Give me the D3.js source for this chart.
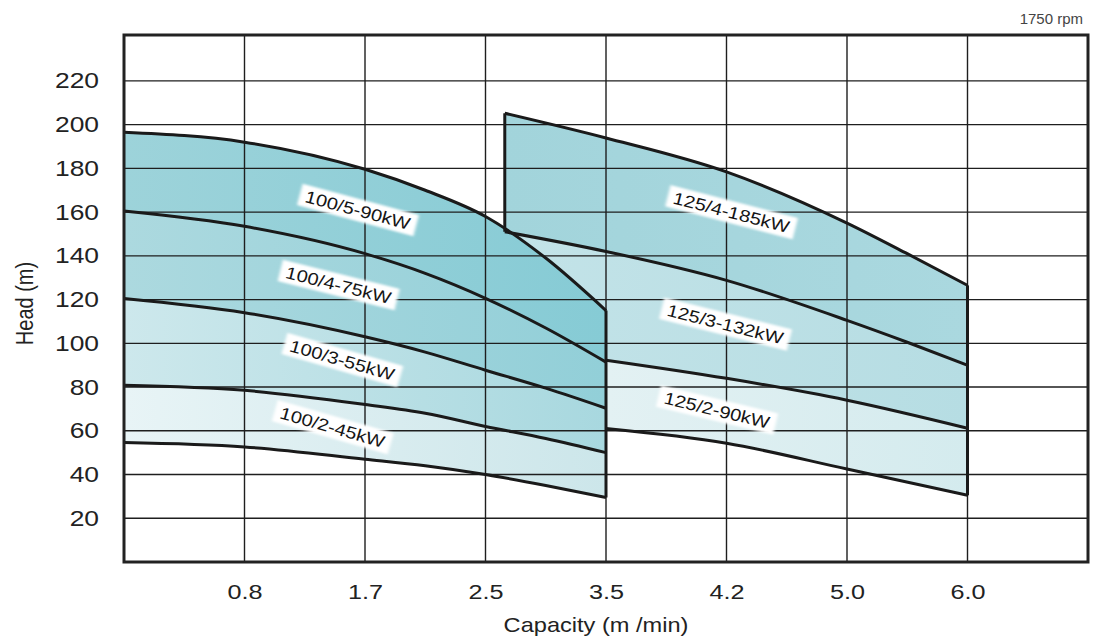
<!DOCTYPE html>
<html><head><meta charset="utf-8">
<script src="https://cdn.jsdelivr.net/npm/d3@7"></script>
<style>
body{margin:0;background:#fff}
svg{display:block;font-family:"Liberation Sans",Arial,Helvetica,sans-serif}
</style>
</head><body>
<svg id="chart" width="1093" height="639"></svg>
<script>
// ---------------- data ----------------
const xTickLabels = ["0.8","1.7","2.5","3.5","4.2","5.0","6.0"];
const xTickSlots  = [1,2,3,4,5,6,7];          // equal-spaced slots on the capacity axis
const yTicks = [20,40,60,80,100,120,140,160,180,200,220];
const speedText = "1750 rpm";
const xTitle = "Capacity (m /min)";
const yTitle = "Head (m)";

// left family (100 series) – slot positions along capacity axis
const leftSlots = [0, 1, 2, 2.5, 3, 3.5, 4];
const head100_5  = [196.5, 192, 179.6, 170, 158, 139, 115];
const head100_4  = [160.5, 153.5, 141, 132, 120.6, 107, 91.4];
const head100_3  = [120.5, 114, 103, 96, 87.7, 79.5, 70.3];
const head100_2  = [80.8, 78.5, 72, 68, 62, 56.5, 50];
const head100_min= [54.6, 52.6, 47, 44, 40, 35, 29.5];

// right family (125 series)
const rightSlotsHigh = [3.16, 4, 5, 6, 6.5, 7];
const head125_4  = [205.2, 193.9, 178.4, 155, 141, 126.5];
const head125_3  = [151, 142, 128.8, 110.5, 100.5, 90];
const rightSlotsLow = [4, 5, 6, 7];
const head125_2  = [92.3, 84, 74, 61.2];
const head125_min= [61, 54.3, 42.5, 30.5];

const bandNames = ["100/5-90kW","100/4-75kW","100/3-55kW","100/2-45kW",
                   "125/4-185kW","125/3-132kW","125/2-90kW"];
// label anchor in data units (slot, head) and tilt
const labelSlot  = [1.94, 1.78, 1.81, 1.73, 5.04, 4.99, 4.92];
const labelHead  = [161, 126.7, 92.4, 61.7, 160, 108.8, 69.5];
const labelAngle = [15, 14, 16, 16, 14.5, 14, 13.5];

// ---------------- drawing ----------------
const svg = d3.select("#chart");
const x = d3.scaleLinear().domain([0, 8]).range([124, 1088]);
const y = d3.scaleLinear().domain([0, 241]).range([562, 35]);

const pts = (xs, ys) => xs.map((v,i)=>[v, ys[i]]);
const lineGen = d3.line().x(d=>x(d[0])).y(d=>y(d[1])).curve(d3.curveMonotoneX);
function bandPath(upper, lower){
  const up = lineGen(upper);
  const lo = lineGen(lower.slice().reverse());
  return up + "L" + lo.slice(1) + "Z";
}

const defs = svg.append("defs");
function grad(id, c0, c1, s0, s1){
  const g = defs.append("linearGradient").attr("id", id)
    .attr("gradientUnits","userSpaceOnUse")
    .attr("x1", x(s0)).attr("x2", x(s1)).attr("y1",0).attr("y2",0);
  g.append("stop").attr("offset",0).attr("stop-color",c0);
  g.append("stop").attr("offset",1).attr("stop-color",c1);
}
grad("g5","#9dd3da","#86cbd5",0,4);
grad("g4","#acd9df","#92cfd8",0,4);
grad("g3","#cde8ec","#a8d8df",0,4);
grad("g2","#e8f4f6","#cce6ea",0,4);
grad("r4","#a2d4db","#aad8df",3.16,7);
grad("r3","#c3e3e8","#b6dde3",3.16,7);
grad("r2","#e3f1f3","#d4ebee",4,7);
const blur = defs.append("filter").attr("id","soft").attr("x","-20%").attr("y","-40%").attr("width","140%").attr("height","180%");
blur.append("feGaussianBlur").attr("stdDeviation",1.2);

const L5 = pts(leftSlots, head100_5), L4 = pts(leftSlots, head100_4), L3 = pts(leftSlots, head100_3),
      L2 = pts(leftSlots, head100_2), L1 = pts(leftSlots, head100_min);
const R4 = pts(rightSlotsHigh, head125_4), R3 = pts(rightSlotsHigh, head125_3),
      R2 = pts(rightSlotsLow, head125_2), R1 = pts(rightSlotsLow, head125_min);

const fills = svg.append("g");
// right family behind
fills.append("path").attr("d", bandPath(R4, R3)).attr("fill","url(#r4)");
fills.append("path").attr("d", bandPath(R3, R2)).attr("fill","url(#r3)");
fills.append("path").attr("d", bandPath(R2, R1)).attr("fill","url(#r2)");
// left family on top
fills.append("path").attr("d", bandPath(L5, L4)).attr("fill","url(#g5)");
fills.append("path").attr("d", bandPath(L4, L3)).attr("fill","url(#g4)");
fills.append("path").attr("d", bandPath(L3, L2)).attr("fill","url(#g3)");
fills.append("path").attr("d", bandPath(L2, L1)).attr("fill","url(#g2)");

// grid
const grid = svg.append("g").attr("stroke","#1e1e1e").attr("stroke-width",1.4);
grid.selectAll(".v").data(xTickSlots).join("line")
  .attr("x1", d=>x(d)).attr("x2", d=>x(d)).attr("y1", y(241)).attr("y2", y(0));
grid.selectAll(".h").data(yTicks).join("line")
  .attr("x1", x(0)).attr("x2", x(8)).attr("y1", d=>y(d)).attr("y2", d=>y(d));

// curves
const curves = svg.append("g").attr("fill","none").attr("stroke","#1a1a1a").attr("stroke-width",3).attr("stroke-linejoin","round");
[R4,R3,R2,R1,L5,L4,L3,L2,L1].forEach(c => curves.append("path").attr("d", lineGen(c)));
// vertical edges of the families
const edges = [
  [leftSlots[leftSlots.length-1], head100_5[head100_5.length-1], head100_min[head100_min.length-1]],
  [rightSlotsHigh[0], head125_4[0], head125_3[0]],
  [rightSlotsHigh[rightSlotsHigh.length-1], head125_4[head125_4.length-1], head125_min[head125_min.length-1]]
];
curves.selectAll(".e").data(edges).join("line")
  .attr("x1", d=>x(d[0])).attr("x2", d=>x(d[0])).attr("y1", d=>y(d[1])).attr("y2", d=>y(d[2]));

// band labels
const lab = svg.append("g");
bandNames.forEach((name,i)=>{
  const g = lab.append("g")
    .attr("transform", `translate(${x(labelSlot[i])},${y(labelHead[i])}) rotate(${labelAngle[i]}) scale(1.18,1)`);
  const r = g.append("rect").attr("fill","#fff").attr("filter","url(#soft)");
  const t = g.append("text").attr("text-anchor","middle").attr("dy","0.36em")
    .attr("font-size",17).attr("fill","#151515").text(name);
  const b = t.node().getBBox();
  r.attr("x", b.x-5).attr("y", -11).attr("width", b.width+10).attr("height", 22);
});

// frame
svg.append("rect").attr("x", x(0)).attr("y", y(241)).attr("width", x(8)-x(0)).attr("height", y(0)-y(241))
  .attr("fill","none").attr("stroke","#222").attr("stroke-width",3);

// axes
const sx = 1.2;
const xAxis = svg.append("g").attr("transform",`translate(0,${y(0)})`)
  .call(d3.axisBottom(x).tickValues(xTickSlots).tickFormat((d,i)=>xTickLabels[i]).tickSize(0).tickPadding(22));
xAxis.select(".domain").remove();
xAxis.selectAll("text").attr("font-size",21).attr("fill","#222").attr("font-family",null).attr("transform",`scale(${sx},1)`);

const yAxis = svg.append("g").attr("transform",`translate(${x(0)},0)`)
  .call(d3.axisLeft(y).tickValues(yTicks).tickSize(0));
yAxis.select(".domain").remove();
yAxis.selectAll("text").attr("font-size",22).attr("fill","#222").attr("font-family",null)
  .attr("x", -25/sx).attr("transform",`scale(${sx},1)`);

svg.append("text").attr("transform",`translate(${(x(0)+x(8))/2 - 10},632) scale(1.18,1)`)
  .attr("text-anchor","middle").attr("font-size",20).attr("fill","#222").text(xTitle);
svg.append("text").attr("transform",`translate(33,${(y(0)+y(241))/2 + 5}) scale(1.15,1) rotate(-90)`)
  .attr("text-anchor","middle").attr("font-size",20).attr("fill","#222").text(yTitle);
svg.append("text").attr("x",1083).attr("y",24).attr("text-anchor","end")
  .attr("font-size",15).attr("fill","#444").text(speedText);
</script>
</body></html>
